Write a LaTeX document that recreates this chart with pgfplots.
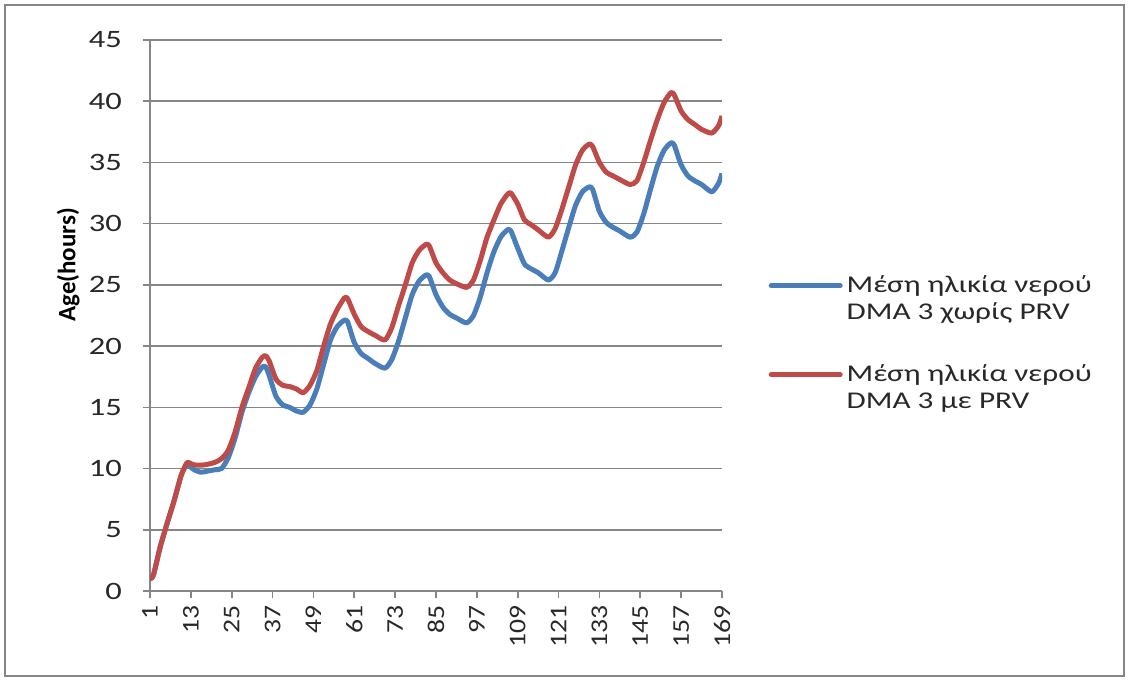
\documentclass[border=0pt]{standalone}
\usepackage{fontspec}
\setmainfont{Carlito}
\newfontfamily\wide{Carlito}[FakeStretch=1.3]
\newfontfamily\xwide{Carlito}[FakeStretch=1.15]
\usepackage{pgfplots}
\pgfplotsset{compat=1.18}
\definecolor{cblue}{RGB}{74,126,187}
\definecolor{cred}{RGB}{190,75,72}
\definecolor{cgrid}{RGB}{134,134,134}
\definecolor{ctext}{RGB}{40,40,40}
\begin{document}
\begin{tikzpicture}
\useasboundingbox (0,0) rectangle (564.5pt,340.5pt);
\fill[white] (0,0) rectangle (564.5pt,340.5pt);
\draw[color=cgrid, line width=0.8pt] (2.5pt,2.5pt) rectangle (562pt,338pt);
\begin{axis}[
  at={(75pt,45pt)}, anchor=south west,
  scale only axis, width=286pt, height=275.5pt,
  xmin=1, xmax=169, ymin=0, ymax=45,
  ytick={0,5,...,45}, xtick={1,13,...,169},
  axis x line*=bottom, axis y line*=left,
  axis line style={-, cgrid, line width=0.8pt},
  ymajorgrids, grid style={cgrid, line width=0.8pt},
  tick align=outside, major tick length=3.5pt,
  tick style={cgrid, line width=0.8pt},
  /pgf/number format/assume math mode=true,
  x tick label style={rotate=90, anchor=east, font=\xwide\fontsize{12}{13}\selectfont, text=ctext},
  y tick label style={font=\wide\fontsize{12.5}{14}\selectfont, text=ctext, xshift=-7pt},
  ylabel={Age(hours)},
  ylabel style={at={(axis description cs:-0.143,0.592)}, anchor=center, rotate=0, font=\bfseries\fontsize{12.5}{14}\selectfont, text=black},
  legend style={at={(axis description cs:1.081,0.580)}, anchor=north west, draw=none, fill=none,
    font=\wide\fontsize{12}{13.5}\selectfont, text=ctext, row sep=17pt,
    cells={anchor=west, align=left, inner xsep=1pt}, inner sep=0pt},
  legend cell align=left,
  legend image code/.code={\draw[#1, line width=2.5pt, line cap=round] (0pt,6.75pt) -- (34.5pt,6.75pt);},
  line join=round,
]
\addplot[cblue, line width=2.5pt, smooth, tension=0.4] coordinates {
(1,1.0)(2,1.3)(4,3.6)(6,5.5)(8,7.3)(10,9.3)(11,10.0)(12,10.3)(14,9.9)(16,9.7)(18,9.8)(20,9.9)(22,10.0)(24,10.9)(26,12.5)(28,14.6)(30,16.2)(32,17.5)(34,18.3)(35,18.3)(36,17.6)(38,15.9)(40,15.2)(42,15.0)(44,14.7)(46,14.6)(48,15.2)(50,16.5)(52,18.5)(54,20.5)(56,21.6)(58,22.1)(59,22.0)(61,20.3)(63,19.4)(65,19.0)(67,18.6)(70,18.2)(72,18.9)(74,20.4)(76,22.3)(78,24.2)(80,25.3)(82,25.8)(83,25.7)(85,24.2)(87,23.2)(89,22.6)(91,22.3)(94,21.9)(96,22.5)(98,24.0)(100,26.0)(102,27.7)(104,28.9)(106,29.5)(107,29.4)(109,28.0)(111,26.7)(113,26.3)(115,26.0)(118,25.4)(120,26.0)(122,27.8)(124,29.7)(126,31.5)(128,32.6)(130,33.0)(131,32.8)(133,31.0)(135,30.1)(137,29.7)(139,29.4)(142,28.9)(144,29.3)(146,30.8)(148,32.8)(150,34.7)(152,36.0)(154,36.6)(155,36.4)(157,34.8)(159,33.9)(161,33.5)(163,33.2)(166,32.6)(168,33.3)(169,34.1)
};
\addlegendentry{Μέση ηλικία νερού\\DMA 3 χωρίς PRV}
\addplot[cred, line width=2.5pt, smooth, tension=0.4] coordinates {
(1,1.0)(2,1.3)(4,3.6)(6,5.5)(8,7.3)(10,9.3)(11,10.0)(12,10.5)(14,10.3)(17,10.3)(20,10.5)(22,10.8)(24,11.5)(26,13.0)(28,15.0)(30,16.6)(32,18.2)(34,19.1)(35,19.2)(36,18.8)(38,17.3)(40,16.8)(42,16.7)(44,16.5)(46,16.2)(48,16.8)(50,18.0)(52,20.0)(54,21.8)(56,23.0)(58,23.9)(59,23.9)(61,22.6)(63,21.6)(65,21.2)(67,20.9)(70,20.5)(72,21.5)(74,23.3)(76,25.0)(78,26.8)(80,27.8)(82,28.3)(83,28.2)(85,26.8)(87,26.0)(89,25.4)(91,25.1)(94,24.8)(96,25.4)(98,27.0)(100,28.9)(102,30.3)(104,31.6)(106,32.4)(107,32.5)(109,31.6)(111,30.3)(113,29.9)(115,29.5)(118,28.9)(120,29.6)(122,31.2)(124,33.0)(126,34.8)(128,36.0)(130,36.5)(131,36.3)(133,35.0)(135,34.2)(137,33.9)(139,33.6)(142,33.2)(144,33.5)(146,35.0)(148,36.8)(150,38.5)(152,39.9)(154,40.7)(155,40.5)(157,39.2)(159,38.5)(161,38.1)(163,37.7)(166,37.4)(168,38.0)(169,38.8)
};
\addlegendentry{Μέση ηλικία νερού\\DMA 3 με PRV}
\end{axis}
\end{tikzpicture}
\end{document}
